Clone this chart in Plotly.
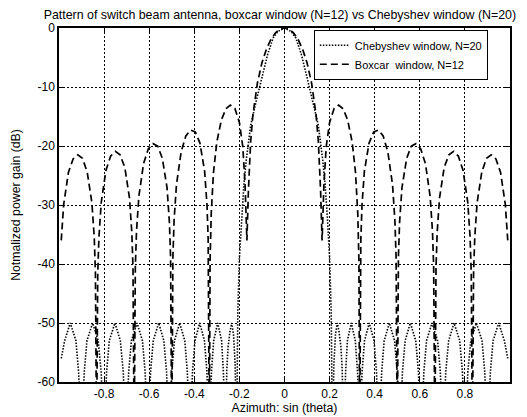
import plotly.graph_objects as go

# ---- Data ----
# Chebyshev window, N=20 (dotted): sin(theta) positions and normalized gain (dB)
cheb_x = [
    -0.99, -0.975, -0.95, -0.925, -0.913, -0.9,
    -0.888, -0.876, -0.851, -0.826, -0.813, -0.801,
    -0.789, -0.777, -0.752, -0.728, -0.715, -0.703,
    -0.691, -0.679, -0.654, -0.63, -0.618, -0.606,
    -0.594, -0.582, -0.558, -0.535, -0.523, -0.5115,
    -0.5, -0.488, -0.465, -0.442, -0.431, -0.419,
    -0.408, -0.397, -0.376, -0.355, -0.344, -0.333,
    -0.324, -0.314, -0.296, -0.279, -0.271, -0.262,
    -0.256, -0.25, -0.242, -0.234, -0.226, -0.219, -0.2125,
    -0.207, -0.2, -0.19, -0.18, -0.17, -0.15, -0.125, -0.1, -0.075, -0.05, -0.03,
    0.0,
    0.03, 0.05, 0.075, 0.1, 0.125, 0.15, 0.17, 0.18, 0.19, 0.2, 0.207,
    0.2125, 0.219, 0.226, 0.234, 0.242, 0.25, 0.256,
    0.262, 0.271, 0.279, 0.296, 0.314, 0.324,
    0.333, 0.344, 0.355, 0.376, 0.397, 0.408,
    0.419, 0.431, 0.442, 0.465, 0.488, 0.5,
    0.5115, 0.523, 0.535, 0.558, 0.582, 0.594,
    0.606, 0.618, 0.63, 0.654, 0.679, 0.691,
    0.703, 0.715, 0.728, 0.752, 0.777, 0.789,
    0.801, 0.813, 0.826, 0.851, 0.876, 0.888,
    0.9, 0.913, 0.925, 0.95, 0.975, 0.99,
]
cheb_db = [
    -56, -53, -50, -53, -58.3, -70,
    -58.3, -53, -50, -53, -58.3, -70,
    -58.3, -53, -50, -53, -58.3, -70,
    -58.3, -53, -50, -53, -58.3, -70,
    -58.3, -53, -50, -53, -58.3, -70,
    -58.3, -53, -50, -53, -58.3, -70,
    -58.3, -53, -50, -53, -58.3, -70,
    -58.3, -53, -50, -53, -58.3, -70,
    -58, -54, -51.5, -50, -52, -57, -70,
    -48, -39, -32, -26.5, -22.5, -16.5, -12.3, -8.4, -4.5, -1.65, -0.6,
    0.0,
    -0.6, -1.65, -4.5, -8.4, -12.3, -16.5, -22.5, -26.5, -32, -39, -48,
    -70, -57, -52, -50, -51.5, -54, -58,
    -70, -58.3, -53, -50, -53, -58.3,
    -70, -58.3, -53, -50, -53, -58.3,
    -70, -58.3, -53, -50, -53, -58.3,
    -70, -58.3, -53, -50, -53, -58.3,
    -70, -58.3, -53, -50, -53, -58.3,
    -70, -58.3, -53, -50, -53, -58.3,
    -70, -58.3, -53, -50, -53, -58.3,
    -70, -58.3, -53, -50, -53, -56,
]

# Boxcar window, N=12 (dashed)
box_x = [
    -0.99, -0.9792, -0.9583, -0.9375, -0.9167, -0.8958, -0.875, -0.8542, -0.8437, -0.8385,
    -0.8333, -0.8281, -0.8229, -0.8125, -0.7917, -0.7708, -0.75, -0.7292, -0.7083, -0.6875, -0.6771, -0.6719,
    -0.6667, -0.6615, -0.6563, -0.6458, -0.625, -0.6042, -0.5833, -0.5625, -0.5417, -0.5208, -0.5104, -0.5052,
    -0.5, -0.4948, -0.4896, -0.4792, -0.4583, -0.4375, -0.4167, -0.3958, -0.375, -0.3542, -0.3437, -0.3385,
    -0.3333, -0.33, -0.325, -0.315, -0.3, -0.28, -0.26, -0.24, -0.22, -0.2, -0.185, -0.175,
    -0.1667, -0.16, -0.15, -0.14, -0.12, -0.1, -0.08, -0.06, -0.04, -0.02,
    0.0,
    0.02, 0.04, 0.06, 0.08, 0.1, 0.12, 0.14, 0.15, 0.16, 0.1667,
    0.175, 0.185, 0.2, 0.22, 0.24, 0.26, 0.28, 0.3, 0.315, 0.325, 0.33, 0.3333,
    0.3385, 0.3437, 0.3542, 0.375, 0.3958, 0.4167, 0.4375, 0.4583, 0.4792, 0.4896, 0.4948, 0.5,
    0.5052, 0.5104, 0.5208, 0.5417, 0.5625, 0.5833, 0.6042, 0.625, 0.6458, 0.6563, 0.6615, 0.6667,
    0.6719, 0.6771, 0.6875, 0.7083, 0.7292, 0.75, 0.7708, 0.7917, 0.8125, 0.8229, 0.8281, 0.8333,
    0.8385, 0.8437, 0.8542, 0.875, 0.8958, 0.9167, 0.9375, 0.9583, 0.9792, 0.99,
]
box_db = [
    -36, -29.9, -24.5, -22.2, -21.5, -22.1, -24.4, -29.6, -35.5, -41.5,
    -70, -41.5, -35.4, -29.5, -24.1, -21.7, -20.9, -21.5, -23.6, -28.8, -34.6, -40.6,
    -70, -40.5, -34.5, -28.5, -23.0, -20.5, -19.6, -20.0, -22.1, -27.1, -32.9, -38.8,
    -70, -38.7, -32.6, -26.6, -21.0, -18.3, -17.3, -17.6, -19.5, -24.3, -30.0, -35.9,
    -70, -39.5, -31.5, -24.5, -19.3, -15.6, -13.7, -13.06, -13.65, -16.0, -20.1, -26.4,
    -36, -27.5, -19.2, -14.7, -9.3, -5.9, -3.56, -1.9, -0.83, -0.2,
    0.0,
    -0.2, -0.83, -1.9, -3.56, -5.9, -9.3, -14.7, -19.2, -27.5, -36,
    -26.4, -20.1, -16.0, -13.65, -13.06, -13.7, -15.6, -19.3, -24.5, -31.5, -39.5, -70,
    -35.9, -30.0, -24.3, -19.5, -17.6, -17.3, -18.3, -21.0, -26.6, -32.6, -38.7, -70,
    -38.8, -32.9, -27.1, -22.1, -20.0, -19.6, -20.5, -23.0, -28.5, -34.5, -40.5, -70,
    -40.6, -34.6, -28.8, -23.6, -21.5, -20.9, -21.7, -24.1, -29.5, -35.4, -41.5, -70,
    -41.5, -35.5, -29.6, -24.4, -22.1, -21.5, -22.2, -24.5, -29.9, -36,
]

x_ticks = [-0.8, -0.6, -0.4, -0.2, 0, 0.2, 0.4, 0.6, 0.8]
x_tick_labels = ["-0.8", "-0.6", "-0.4", "-0.2", "0", "0.2", "0.4", "0.6", "0.8"]
y_ticks = [0, -10, -20, -30, -40, -50, -60]
y_tick_labels = ["0", "-10", "-20", "-30", "-40", "-50", "-60"]

FONT = "Arial, 'Liberation Sans', Helvetica, sans-serif"

fig = go.Figure()
fig.add_trace(go.Scatter(
    x=cheb_x, y=cheb_db, mode="lines", name="Chebyshev window, N=20",
    line=dict(color="black", width=1.6, dash="1.5px,1.5px"),
))
fig.add_trace(go.Scatter(
    x=box_x, y=box_db, mode="lines", name="Boxcar  window, N=12",
    line=dict(color="black", width=1.7, dash="7px,4px"),
))

axis_common = dict(
    showline=True, linecolor="black", linewidth=1.5, mirror="ticks",
    ticks="inside", ticklen=5, tickcolor="black",
    showgrid=True, gridcolor="black", gridwidth=1.3, griddash="2px,2px",
    zeroline=False, tickfont=dict(family=FONT, size=12, color="black"),
)

fig.update_xaxes(
    range=[-1, 1], tickvals=x_ticks, ticktext=x_tick_labels,
    title=dict(text="Azimuth: sin (theta)", font=dict(family=FONT, size=12.3, color="black"), standoff=2),
    **axis_common,
)
fig.update_yaxes(
    range=[-60, 0], tickvals=y_ticks, ticktext=y_tick_labels,
    title=dict(text="Notmalized power gain (dB)", font=dict(family=FONT, size=12.3, color="black"), standoff=14),
    **axis_common,
)

fig.update_layout(
    width=527, height=417,
    margin=dict(l=51, r=25, t=20, b=43, autoexpand=False),
    paper_bgcolor="white", plot_bgcolor="white",
    title=dict(
        text="Pattern of switch beam antenna, boxcar window (N=12) vs Chebyshev window (N=20)",
        font=dict(family=FONT, size=12.4, color="black"),
        x=0.516, xanchor="center", y=0.985, yanchor="middle",
    ),
    legend=dict(
        x=0.565, y=0.995, xanchor="left", yanchor="top",
        bgcolor="white", bordercolor="black", borderwidth=1,
        font=dict(family=FONT, size=11, color="black"),
        itemwidth=30, tracegroupgap=0,
    ),
    showlegend=True,
)

fig.write_html("out.html")
